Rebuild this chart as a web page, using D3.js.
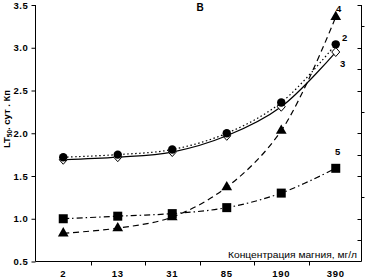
<!DOCTYPE html>
<html><head><meta charset="utf-8">
<script src="https://cdn.jsdelivr.net/npm/d3@7"></script>
<style>body{margin:0;background:#fff}svg{display:block}text{font-family:"Liberation Sans",Arial,sans-serif;fill:#000}</style>
</head><body><svg id="c" width="367" height="280"></svg>
<script>
const categories = ["2","13","31","85","190","390"];
const series2 = [1.72, 1.75, 1.81, 2.00, 2.36, 3.04];
const series3 = [1.69, 1.72, 1.78, 1.97, 2.31, 2.95];
const series4 = [0.83, 0.89, 1.02, 1.37, 2.03, 3.36];
const series5 = [1.00, 1.03, 1.06, 1.13, 1.30, 1.59];
const yTicks = [0.5, 1.0, 1.5, 2.0, 2.5, 3.0, 3.5];
const rightTicks = [0.75,1.0,1.25,1.5,1.75,2.0,2.25,2.5,2.75,3.0,3.25,3.5];

const svg = d3.select("#c");
const x = d3.scaleBand().domain(categories).range([36, 363]);
const y = d3.scaleLinear().domain([0.5, 3.5]).range([261.5, 5]);
const cx = d => x(d) + x.bandwidth()/2;

// axes
const yAxis = d3.axisLeft(y).tickValues(yTicks).tickFormat(d3.format(".1f")).tickSize(4).tickPadding(3);
const gy = svg.append("g").attr("transform","translate(35.5,0)").call(yAxis);
gy.selectAll("text").style("font-size","9.5px").style("font-weight","bold").style("letter-spacing","0.6px");
gy.select(".domain").attr("d","M0,5V261.5");

const xAxis = d3.axisBottom(x).tickSize(0).tickPadding(9);
const gx = svg.append("g").attr("transform","translate(0,261.5)").call(xAxis);
gx.select(".domain").attr("d","M35.5,0H361.5");
gx.selectAll("text").style("font-size","9.5px").style("font-weight","bold").style("letter-spacing","0.8px");
svg.append("g").selectAll("line").data(categories.slice(1)).join("line")
  .attr("x1", d => Math.round(x(d))+0.5)
  .attr("x2", d => Math.round(x(d))+0.5)
  .attr("y1",261.5).attr("y2",265.5).attr("stroke","#000");

// right axis
svg.append("line").attr("x1",361.5).attr("x2",361.5).attr("y1",5).attr("y2",261.5).attr("stroke","#000");
svg.append("g").selectAll("line").data(rightTicks).join("line")
  .attr("x1",361.5).attr("x2",(d,i)=> (i%4===2) ? 364.5 : 357.5)
  .attr("y1",d=>Math.round(y(d))+0.5).attr("y2",d=>Math.round(y(d))+0.5).attr("stroke","#000");

// lines
const line = d3.line().x((d,i)=>cx(categories[i])).y(d=>y(d)).curve(d3.curveCatmullRom.alpha(0.5));
const lines = [
  {data: series5, dash: "6,3,1.5,3"},
  {data: series4, dash: "6,4"},
  {data: series3, dash: null},
  {data: series2, dash: "1.5,2.5"}
];
lines.forEach(s => {
  svg.append("path").attr("d", line(s.data)).attr("fill","none").attr("stroke","#000")
    .attr("stroke-width",1.2).attr("stroke-dasharray", s.dash);
});

// markers
svg.append("g").selectAll("rect").data(series5).join("rect")
  .attr("x",(d,i)=>cx(categories[i])-4.5).attr("y",d=>y(d)-4.5).attr("width",9).attr("height",9).attr("fill","#000");
svg.append("g").selectAll("path").data(series4).join("path")
  .attr("transform",(d,i)=>`translate(${cx(categories[i])},${y(d)})`)
  .attr("d", d3.symbol(d3.symbolTriangle, 50)).attr("fill","#000");
svg.append("g").selectAll("path").data(series3).join("path")
  .attr("transform",(d,i)=>`translate(${cx(categories[i])},${y(d)})`)
  .attr("d","M0,-4.5L4,0L0,4.5L-4,0Z").attr("fill","#fff").attr("stroke","#000").attr("stroke-width",1);
svg.append("g").selectAll("circle").data(series2).join("circle")
  .attr("cx",(d,i)=>cx(categories[i])).attr("cy",d=>y(d)).attr("r",4.2).attr("fill","#000");

// series labels
const lab = (t,xx,yy)=>svg.append("text").attr("x",xx).attr("y",yy).text(t).style("font-size","9.5px").style("font-weight","bold");
lab("4",336,12); lab("2",342,41); lab("3",340,67); lab("5",335,155);

// title
svg.append("text").attr("x",200).attr("y",11).attr("text-anchor","middle").text("В")
  .style("font-size","10px").style("font-weight","bold");

// x label
svg.append("text").attr("x",357).attr("y",258).attr("text-anchor","end").text("Концентрация магния, мг/л")
  .style("font-size","8.5px").attr("textLength",129).attr("lengthAdjust","spacingAndGlyphs");

// y label
const yl = svg.append("text").attr("transform","translate(10,119) rotate(-90)").attr("text-anchor","middle")
  .style("font-size","9.5px").style("font-weight","bold");
yl.append("tspan").text("LT");
yl.append("tspan").text("50").style("font-size","6.5px").attr("dy",2);
yl.append("tspan").text(". сут . Кп").attr("dy",-2);
</script></body></html>
